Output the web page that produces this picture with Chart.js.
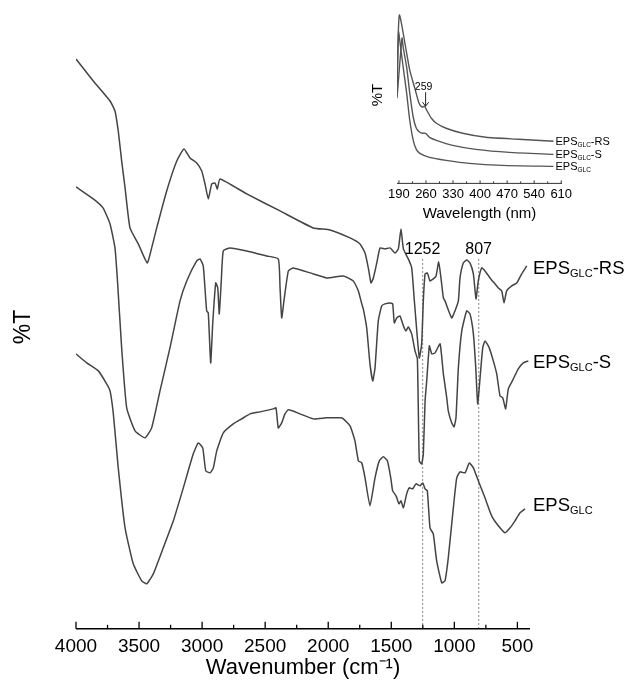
<!DOCTYPE html>
<html>
<head>
<meta charset="utf-8">
<script src="https://cdn.jsdelivr.net/npm/chart.js@4.4.1/dist/chart.umd.min.js"></script>
<style>
  html, body { margin: 0; padding: 0; background: #fff; }
  #wrap { position: relative; width: 625px; height: 684px; }
  #main { position: absolute; left: 0; top: 0; }
  #inset { position: absolute; left: 340px; top: 0; }
</style>
</head>
<body>
<div id="wrap">
  <canvas id="main" width="625" height="684"></canvas>
  <canvas id="inset" width="285" height="225"></canvas>
</div>
<script>
// --- FTIR spectra (wavenumber in cm-1, %T in arbitrary offset units) ---
const rsWave = [4000,3863,3730,3691,3665,3638,3611,3572,3506,3435,3400,3360,3281,3201,3144,3096,3043,3003,2977,2951,2924,2898,2879,2858,2646,2382,2118,1986,1827,1748,1708,1682,1661,1642,1615,1589,1550,1510,1470,1444,1423,1404,1365,1338,1317,1278,1259,1246,1232,1214,1193,1167,1145,1124,1106,1087,1074,1021,995,968,955,929,902,876,849,828,810,783,757,717,677,651,624,606,585,545,505,466,426];
const rsT = [570,548,528,518,498,468,441,401,385,366,381,401,438,468,480,471,466,458,445,430,445,446,440,450,435,418,401,399,391,385,376,361,346,351,366,381,380,381,376,380,400,380,370,361,328,271,285,328,355,356,348,350,353,367,351,331,328,311,318,328,351,366,369,366,355,330,348,361,358,351,345,341,338,326,338,343,346,355,363];

const sWave = [4000,3863,3786,3730,3691,3671,3638,3598,3532,3453,3400,3334,3255,3175,3122,3043,3017,2991,2964,2951,2932,2916,2892,2876,2864,2848,2832,2779,2646,2488,2396,2382,2369,2351,2316,2277,2118,2012,1880,1801,1761,1734,1722,1695,1669,1647,1629,1603,1576,1550,1510,1489,1476,1457,1431,1404,1383,1365,1338,1312,1293,1278,1259,1246,1232,1219,1198,1179,1153,1113,1087,1060,1048,1021,1002,987,968,941,902,876,849,830,815,796,775,757,723,691,664,638,616,593,572,532,493,453,413];
const sT = [442,430,421,405,381,348,281,221,198,191,201,238,281,328,348,368,370,363,318,316,266,305,346,341,315,348,378,381,378,373,370,341,311,328,358,361,355,351,353,348,338,325,320,301,265,248,261,308,323,325,326,325,306,311,313,303,298,302,295,278,270,168,165,175,228,248,283,275,276,285,255,231,218,206,202,211,261,298,318,315,295,261,225,251,281,288,281,268,255,233,231,220,240,250,260,266,268];

const glcWave = [4000,3915,3823,3757,3730,3704,3665,3611,3546,3479,3439,3387,3308,3228,3149,3070,3030,2995,2971,2937,2911,2884,2832,2753,2686,2620,2541,2435,2414,2396,2369,2343,2316,2224,2118,2012,1906,1880,1827,1788,1761,1734,1708,1669,1629,1595,1563,1531,1504,1489,1462,1439,1423,1404,1378,1357,1330,1304,1272,1251,1232,1214,1193,1167,1140,1100,1074,1048,1008,981,955,915,881,849,810,757,704,651,598,558,519,479,439];
const glcT = [275,266,258,245,238,215,161,101,65,48,45,55,81,108,141,175,186,181,158,156,161,178,196,205,210,215,217,220,221,201,206,215,219,215,210,211,211,210,203,188,168,166,151,123,151,168,172,168,151,138,133,125,128,121,135,141,140,145,143,146,140,138,101,95,68,46,48,71,121,151,157,156,166,161,148,131,113,103,96,101,108,116,120];

const mainTicks = [4000, 3500, 3000, 2500, 2000, 1500, 1000, 500];
const markerWaves = [1252, 807];
const markerTop = 370;

// --- UV inset (wavelength in nm) ---
const insetRsNm = [185,191,210,218,231,242,250,256,262,274,287,312,355,415,500,590];
const insetRsT = [93,168,130,113,95,80,76,77,73,65,60,55,50,46,44,42];
const insetSNm = [185,198,201,210,218,227,235,244,252,259,269,287,329,389,475,590];
const insetST = [85,145,136,116,90,66,55,51,50,50,46,43,38,34,31,29];
const insetGlcNm = [185,189,193,201,210,218,227,235,244,269,312,372,457,590];
const insetGlcT = [93,151,140,116,90,63,43,34,30,26,23,20,18,17];
const insetTicks = [190, 260, 330, 400, 470, 540, 610];
const insetPeak = 259;

const FONT = '"Liberation Sans", Arial, Helvetica, sans-serif';
const LINE = '#444';

Chart.defaults.font.family = FONT;
Chart.defaults.color = '#000';

const zip = (xs, ys) => xs.map((x, i) => ({ x, y: ys[i] }));

// Draws "EPS" + subscript "GLC" + tail on one baseline
function drawSubLabel(ctx, x, y, tail, size, subSize, drop) {
  ctx.textAlign = 'left';
  ctx.textBaseline = 'alphabetic';
  ctx.font = `${size}px ${FONT}`;
  ctx.fillText('EPS', x, y);
  x += ctx.measureText('EPS').width;
  ctx.font = `${subSize}px ${FONT}`;
  ctx.fillText('GLC', x, y + drop);
  x += ctx.measureText('GLC').width;
  if (tail) {
    ctx.font = `${size}px ${FONT}`;
    ctx.fillText(tail, x, y);
  }
}

function lineSet(data) {
  return {
    data, borderColor: LINE, borderWidth: 1.5, pointRadius: 0,
    tension: 0.15, fill: false,
  };
}

// --- Main chart decorations: axis line, ticks, labels ---
const mainDecor = {
  id: 'mainDecor',
  afterDraw(chart) {
    const { ctx, chartArea } = chart;
    const x = chart.scales.x;
    const y = chart.scales.y;
    const base = chartArea.bottom;
    ctx.save();
    ctx.strokeStyle = '#000';
    ctx.lineWidth = 1.5;
    ctx.beginPath();
    ctx.moveTo(x.left, base);
    ctx.lineTo(x.right, base);
    ctx.stroke();
    ctx.lineWidth = 1.3;
    mainTicks.forEach((v) => {
      const px = x.getPixelForValue(v);
      ctx.beginPath(); ctx.moveTo(px, base); ctx.lineTo(px, base - 7); ctx.stroke();
      const mv = v - 250;
      if (mv > 400) {
        const mx = x.getPixelForValue(mv);
        ctx.beginPath(); ctx.moveTo(mx, base); ctx.lineTo(mx, base - 4); ctx.stroke();
      }
    });

    // marker labels above dotted lines
    ctx.fillStyle = '#000';
    ctx.font = `16px ${FONT}`;
    ctx.textAlign = 'center';
    ctx.textBaseline = 'middle';
    markerWaves.forEach((w) => {
      ctx.fillText(String(w), x.getPixelForValue(w), y.getPixelForValue(markerTop + 9));
    });

    // series labels at the right end
    const lx = x.right + 3;
    drawSubLabel(ctx, lx, y.getPixelForValue(rsT[rsT.length - 1]) + 8, '-RS', 18.5, 11, 3);
    drawSubLabel(ctx, lx, y.getPixelForValue(sT[sT.length - 1]) + 7, '-S', 18.5, 11, 3);
    drawSubLabel(ctx, lx, y.getPixelForValue(glcT[glcT.length - 1]) + 2, '', 18.5, 11, 3);

    // y axis title
    ctx.translate(24, 327);
    ctx.rotate(-Math.PI / 2);
    ctx.font = `23px ${FONT}`;
    ctx.textAlign = 'center';
    ctx.textBaseline = 'middle';
    ctx.fillText('%T', 0, 0);
    ctx.restore();
  },
};

new Chart(document.getElementById('main'), {
  type: 'line',
  data: {
    datasets: [
      lineSet(zip(rsWave, rsT)),
      lineSet(zip(sWave, sT)),
      lineSet(zip(glcWave, glcT)),
      ...markerWaves.map((w) => ({
        data: [{ x: w, y: markerTop }, { x: w, y: 0 }],
        borderColor: '#999', borderWidth: 1.2, borderDash: [2, 2], pointRadius: 0,
      })),
    ],
  },
  options: {
    responsive: false,
    animation: false,
    devicePixelRatio: 1,
    layout: { padding: { left: 76, right: 95, top: 29, bottom: 3 } },
    plugins: { legend: { display: false }, tooltip: { enabled: false } },
    scales: {
      x: {
        type: 'linear', reverse: true, min: 400, max: 4000,
        afterBuildTicks: (s) => { s.ticks = mainTicks.map((v) => ({ value: v })); },
        ticks: { autoSkip: false, maxRotation: 0, padding: 7, color: '#000', font: { size: 19 }, callback: (v) => String(v) },
        grid: { display: false, drawTicks: false },
        border: { display: false },
        title: { display: true, text: 'Wavenumber (cm\u207B\u00B9)', color: '#000', font: { size: 22 }, padding: { top: -11, bottom: 0 } },
      },
      y: { display: false, min: 0, max: 600 },
    },
  },
  plugins: [mainDecor],
});

// --- Inset decorations ---
const insetDecor = {
  id: 'insetDecor',
  afterDraw(chart) {
    const { ctx, chartArea } = chart;
    const x = chart.scales.x;
    const y = chart.scales.y;
    const base = chartArea.bottom;
    ctx.save();
    ctx.strokeStyle = '#333';
    ctx.lineWidth = 1;
    ctx.beginPath(); ctx.moveTo(x.left, base); ctx.lineTo(x.right, base); ctx.stroke();
    insetTicks.forEach((v, i) => {
      const px = x.getPixelForValue(v);
      ctx.beginPath(); ctx.moveTo(px, base); ctx.lineTo(px, base - 3); ctx.stroke();
      if (i < insetTicks.length - 1) {
        const mx = x.getPixelForValue(v + 35);
        ctx.beginPath(); ctx.moveTo(mx, base); ctx.lineTo(mx, base - 2); ctx.stroke();
      }
    });

    // peak annotation with arrow
    const ax = x.getPixelForValue(insetPeak);
    ctx.fillStyle = '#000';
    ctx.font = `10.5px ${FONT}`;
    ctx.textAlign = 'center';
    ctx.textBaseline = 'middle';
    ctx.fillText(String(insetPeak), ax - 2, y.getPixelForValue(96));
    const a0 = y.getPixelForValue(91);
    const a1 = y.getPixelForValue(77);
    ctx.strokeStyle = '#222';
    ctx.beginPath(); ctx.moveTo(ax, a0); ctx.lineTo(ax, a1); ctx.stroke();
    ctx.beginPath(); ctx.moveTo(ax - 3, a1 - 4); ctx.lineTo(ax, a1); ctx.lineTo(ax + 3, a1 - 4); ctx.stroke();

    // series labels
    const lx = x.getPixelForValue(insetRsNm[insetRsNm.length - 1]) + 2;
    drawSubLabel(ctx, lx, y.getPixelForValue(insetRsT[insetRsT.length - 1]) + 4, '-RS', 11, 6.5, 2);
    drawSubLabel(ctx, lx, y.getPixelForValue(insetST[insetST.length - 1]) + 4, '-S', 11, 6.5, 2);
    drawSubLabel(ctx, lx, y.getPixelForValue(insetGlcT[insetGlcT.length - 1]) + 4, '', 11, 6.5, 2);

    // y title
    ctx.translate(38, 95);
    ctx.rotate(-Math.PI / 2);
    ctx.font = `15px ${FONT}`;
    ctx.textAlign = 'center';
    ctx.textBaseline = 'middle';
    ctx.fillText('%T', 0, 0);
    ctx.restore();
  },
};

const insetLine = (data) => ({ ...lineSet(data), borderColor: '#555', borderWidth: 1.4, tension: 0.2 });

new Chart(document.getElementById('inset'), {
  type: 'line',
  data: {
    datasets: [
      insetLine(zip(insetRsNm, insetRsT)),
      insetLine(zip(insetSNm, insetST)),
      insetLine(zip(insetGlcNm, insetGlcT)),
    ],
  },
  options: {
    responsive: false,
    animation: false,
    devicePixelRatio: 1,
    layout: { padding: { left: 57, right: 63, top: 8, bottom: 2 } },
    plugins: { legend: { display: false }, tooltip: { enabled: false } },
    scales: {
      x: {
        type: 'linear', min: 185, max: 612,
        afterBuildTicks: (s) => { s.ticks = insetTicks.map((v) => ({ value: v })); },
        ticks: { autoSkip: false, maxRotation: 0, padding: 3, color: '#000', font: { size: 13 }, callback: (v) => String(v) },
        grid: { display: false, drawTicks: false },
        border: { display: false },
        title: { display: true, text: 'Wavelength (nm)', color: '#000', font: { size: 15 }, padding: { top: 0, bottom: 0 } },
      },
      y: { display: false, min: 0, max: 175 },
    },
  },
  plugins: [insetDecor],
});
</script>
</body>
</html>
